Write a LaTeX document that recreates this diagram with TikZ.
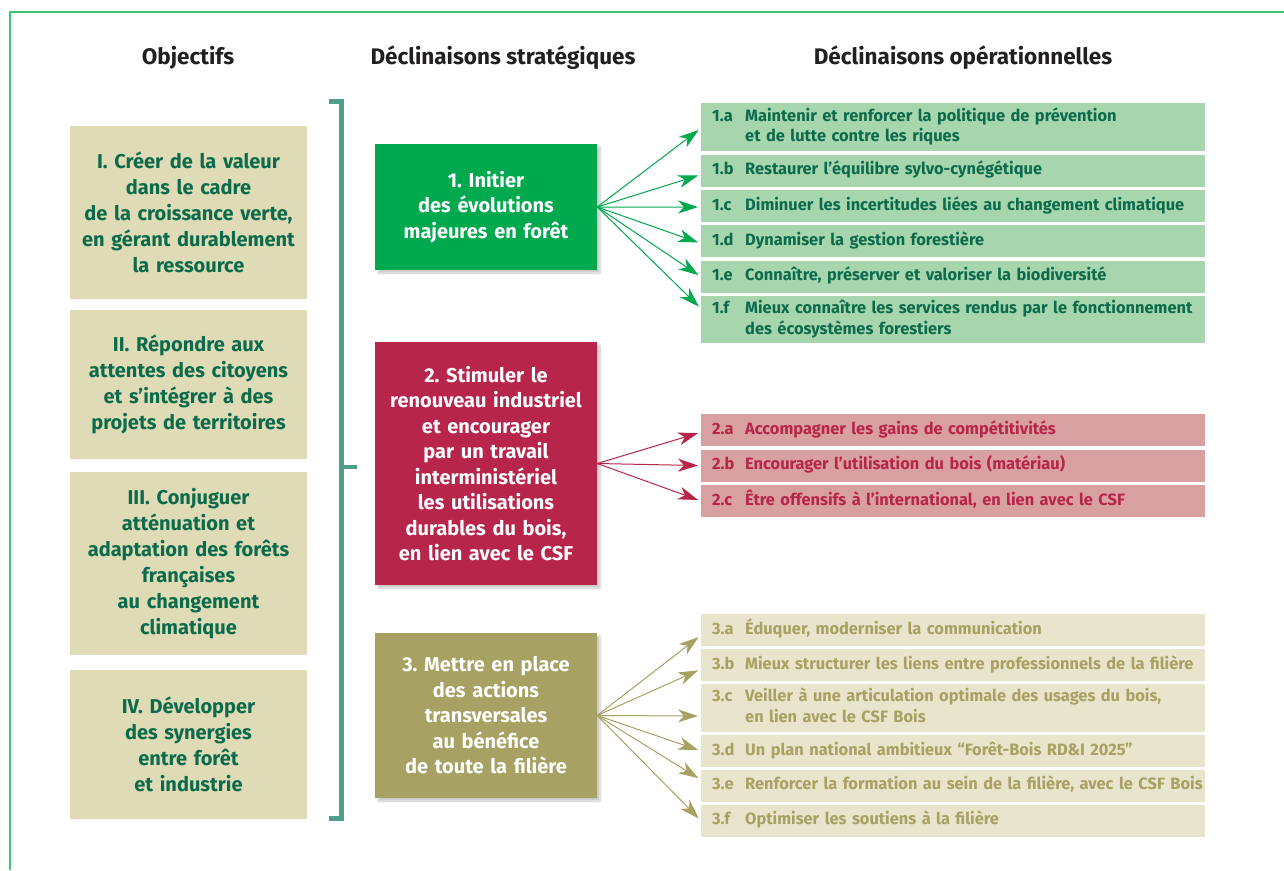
\documentclass[tikz,border=0pt]{standalone}
\usepackage{fontspec}
\setmainfont{Fira Sans}
\frenchspacing
\usetikzlibrary{arrows.meta,positioning,calc,shadows.blur}

\definecolor{cadre}{HTML}{3CC46A}
\definecolor{encre}{HTML}{231F20}
\definecolor{sable}{HTML}{DFDBB7}
\definecolor{pin}{HTML}{0B6B4B}
\definecolor{crochet}{HTML}{4F9E8A}
\definecolor{vert}{HTML}{00A84E}
\definecolor{vertclair}{HTML}{A7D5AE}
\definecolor{rouge}{HTML}{B8254A}
\definecolor{rougeclair}{HTML}{D9A0A1}
\definecolor{olivefonce}{HTML}{A8A164}
\definecolor{oliveclair}{HTML}{E9E4CC}

% numero + texte (les lignes suivantes restent alignees)
\newcommand{\declin}[2]{\makebox[33pt][l]{#1}\begin{tabular}[t]{@{}l@{}}#2\end{tabular}}

\begin{document}
\begin{tikzpicture}[x=1pt, y=-1pt, node distance=3pt,
	head/.style={font=\fontsize{22.5}{26}\selectfont\bfseries, text=encre},
	obj/.style={fill=sable, minimum width=237pt, text width=233pt, inner xsep=2pt, align=center, text=pin,
		font=\fontsize{20}{26}\selectfont\bfseries},
	strat/.style={minimum width=222pt, text width=218pt, inner xsep=2pt, align=center, text=white,
		font=\fontsize{20}{25.5}\selectfont\bfseries,
		blur shadow={shadow xshift=3pt, shadow yshift=-3pt, shadow blur steps=10, shadow opacity=22}},
	op/.style={minimum width=504pt, text width=482pt, inner xsep=11pt, inner ysep=0pt,
		minimum height=32pt, align=left, font=\fontsize{16.4}{20.5}\selectfont\bfseries},
	opa/.style={op, fill=vertclair, text=pin},
	opb/.style={op, fill=rougeclair, text=rouge},
	opc/.style={op, fill=oliveclair, text=olivefonce},
	fl/.style={-{Stealth[length=20pt, width=13pt, inset=6pt]}, line width=1pt, shorten >=3pt}]
	\useasboundingbox (0,0) rectangle (1284,870);
	\draw[cadre, line width=1.4pt] (1284,12) -- (10,12) -- (10,870);

	% titres
	\node[head] (hobj) at (188,58) {Objectifs};
	\node[head] (hstrat) at (503,58) {Déclinaisons stratégiques};
	\node[head] (hop) at (963,58) {Déclinaisons opérationnelles};

	% objectifs
	\node[obj, minimum height=173pt] (ob1) at (188.5,212.5) {I. Créer de la valeur\\ dans le cadre\\ de la croissance verte,\\ en gérant durablement\\ la ressource};
	\node[obj, minimum height=149pt] (ob2) at (188.5,384.5) {II. Répondre aux\\ attentes des citoyens\\ et s’intégrer à des\\ projets de territoires};
	\node[obj, minimum height=183pt] (ob3) at (188.5,563.5) {III. Conjuguer\\ atténuation et\\ adaptation des forêts\\ françaises\\ au changement\\ climatique};
	\node[obj, minimum height=149pt] (ob4) at (188.5,744.5) {IV. Développer\\ des synergies\\ entre forêt\\ et industrie};

	% accolade
	\draw[crochet, line width=4.5pt] (329,101.5) -- (341.5,101.5) -- (341.5,818.5) -- (329,818.5);
	\draw[crochet, line width=4.5pt] (341.5,467) -- (357,467);

	% declinaisons strategiques
	\node[strat, fill=vert, minimum height=126pt] (s1) at (486,207) {1. Initier\\ des évolutions\\ majeures en forêt};
	\node[strat, fill=rouge, minimum height=243pt] (s2) at (486,463.5) {2. Stimuler le\\ renouveau industriel\\ et encourager\\ par un travail\\ interministériel\\ les utilisations\\ durables du bois,\\ en lien avec le CSF};
	\node[strat, fill=olivefonce, minimum height=165pt] (s3) at (486,715.5) {3. Mettre en place\\ des actions\\ transversales\\ au bénéfice\\ de toute la filière};

	% declinaisons operationnelles
	\node[opa, minimum height=48pt, anchor=north west] (o1a) at (701,103) {\declin{1.a}{Maintenir et renforcer la politique de prévention\\ et de lutte contre les riques}};
	\node[opa, below=of o1a] (o1b) {\declin{1.b}{Restaurer l’équilibre sylvo-cynégétique}};
	\node[opa, below=of o1b] (o1c) {\declin{1.c}{Diminuer les incertitudes liées au changement climatique}};
	\node[opa, below=of o1c] (o1d) {\declin{1.d}{Dynamiser la gestion forestière}};
	\node[opa, below=of o1d] (o1e) {\declin{1.e}{Connaître, préserver et valoriser la biodiversité}};
	\node[opa, below=of o1e, minimum height=47pt] (o1f) {\declin{1.f}{Mieux connaître les services rendus par le fonctionnement\\ des écosystèmes forestiers}};

	\node[opb, anchor=north west] (o2a) at (701,414) {\declin{2.a}{Accompagner les gains de compétitivités}};
	\node[opb, below=of o2a] (o2b) {\declin{2.b}{Encourager l’utilisation du bois (matériau)}};
	\node[opb, below=of o2b] (o2c) {\declin{2.c}{Être offensifs à l’international, en lien avec le CSF}};

	\node[opc, anchor=north west] (o3a) at (701,614) {\declin{3.a}{Éduquer, moderniser la communication}};
	\node[opc, below=2.5pt of o3a] (o3b) {\declin{3.b}{Mieux structurer les liens entre professionnels de la filière}};
	\node[opc, below=2.5pt of o3b, minimum height=48pt] (o3c) {\declin{3.c}{Veiller à une articulation optimale des usages du bois,\\ en lien avec le CSF Bois}};
	\node[opc, below=2.5pt of o3c] (o3d) {\declin{3.d}{Un plan national ambitieux “Forêt-Bois RD\&I 2025”}};
	\node[opc, below=2.5pt of o3d] (o3e) {\declin{3.e}{Renforcer la formation au sein de la filière, avec le CSF Bois}};
	\node[opc, below=2.5pt of o3e] (o3f) {\declin{3.f}{Optimiser les soutiens à la filière}};

	% fleches
	\foreach \t/\dy in {o1a/1, o1b/4, o1c/1, o1d/2, o1e/0, o1f/-11}
		\draw[fl, vert] (s1.east) -- ($(\t.west)+(0,\dy)$);
	\foreach \t/\dy in {o2a/2, o2b/0, o2c/0}
		\draw[fl, rouge] (s2.east) -- ($(\t.west)+(0,\dy)$);
	\foreach \t/\dy in {o3a/5, o3b/4, o3c/8, o3d/0, o3e/-6, o3f/0}
		\draw[fl, olivefonce] (s3.east) -- ($(\t.west)+(0,\dy)$);
\end{tikzpicture}
\end{document}
